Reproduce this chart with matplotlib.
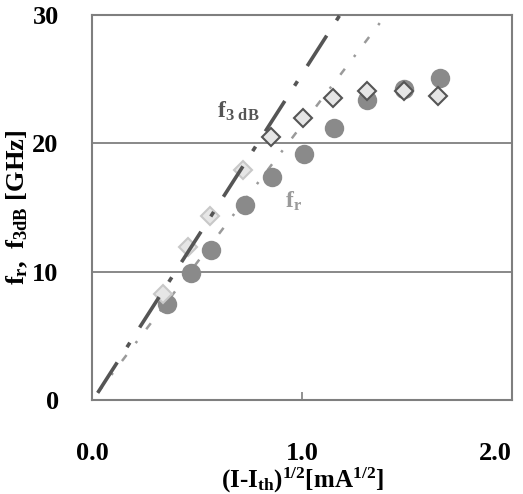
import matplotlib
matplotlib.use("Agg")
import matplotlib.pyplot as plt
import numpy as np

plt.rcParams['font.family'] = ['Liberation Serif', 'DejaVu Serif']
plt.rcParams['font.weight'] = 'bold'
plt.rcParams['mathtext.fontset'] = 'custom'
plt.rcParams['mathtext.rm'] = 'Liberation Serif:bold'
plt.rcParams['mathtext.it'] = 'Liberation Serif:bold'
plt.rcParams['mathtext.bf'] = 'Liberation Serif:bold'

# f_r data (circles)
fr_x = [0.356, 0.47, 0.567, 0.729, 0.856, 1.011, 1.152, 1.311, 1.487, 1.657]
fr_y = [7.5, 9.9, 11.7, 15.2, 17.4, 19.2, 21.2, 23.4, 24.2, 25.1]
# f_3dB data (diamonds)
f3_x = [0.34, 0.459, 0.562, 0.718, 0.851, 1.006, 1.146, 1.308, 1.486, 1.649]
f3_y = [8.3, 11.9, 14.3, 17.9, 20.5, 22.0, 23.5, 24.1, 24.1, 23.7]
# linear fits
f3_fit_x = [0.027, 1.181]
f3_fit_y = [0.57, 30.0]
fr_fit_x = [0.027, 1.40]
fr_fit_y = [0.57, 30.0]

fig = plt.figure(figsize=(5.23, 4.94), dpi=100)
ax = fig.add_axes([0.176, 0.190, 0.803, 0.780])

ax.set_xlim(0, 2.0)
ax.set_ylim(0, 30)

for yv in [10, 20]:
    ax.axhline(yv, color='#7f7f7f', lw=1.3, zorder=1)

ax.plot(fr_fit_x, fr_fit_y, color='#9a9a9a', lw=1.8, dashes=(3, 6, 1, 6), zorder=2)
ax.plot(f3_fit_x, f3_fit_y, color='#555555', lw=2.6, dashes=(10, 5, 1.5, 5), zorder=4)

ax.plot(fr_x, fr_y, 'o', color='#8a8a8a', markersize=14, markeredgewidth=0, zorder=3)
ax.plot(f3_x[:4], f3_y[:4], 'D', markerfacecolor='#e6e6e6', markeredgecolor='#c8c8c8',
        markersize=9, markeredgewidth=1.5, zorder=3)
ax.plot(f3_x[4:], f3_y[4:], 'D', markerfacecolor='#e6e6e6', markeredgecolor='#555555',
        markersize=9, markeredgewidth=1.5, zorder=5)

ax.text(0.595, 22.0, r'$\mathrm{f}_{\mathrm{3\ dB}}$', color='#555555', fontsize=17)
ax.text(0.92, 15.0, r'$\mathrm{f}_{\mathrm{r}}$', color='#9a9a9a', fontsize=17)

for s in ax.spines.values():
    s.set_color('#7f7f7f')
    s.set_linewidth(1.5)

ax.set_xticks([0.0, 1.0, 2.0])
ax.set_xticklabels(['0.0', '1.0', '2.0'])
ax.set_yticks([0, 10, 20, 30])
ax.set_yticklabels(['0', '10', '20', '30'])
ax.tick_params(axis='x', direction='in', length=6, width=1.2, color='#7f7f7f',
               pad=30, labelsize=19)
ax.tick_params(axis='y', direction='in', length=0, pad=24, labelsize=19)
for lab in ax.get_xticklabels() + ax.get_yticklabels():
    lab.set_fontweight('bold')
ax.get_xticklabels()[-1].set_horizontalalignment('right')
ax.get_xticklabels()[-1].set_x(2.03)

ax.set_xlabel(r'$\mathrm{(I\text{-}I_{th})^{1/2}[mA^{1/2}]}$', fontsize=18, labelpad=1)
ax.set_ylabel(r'$\mathrm{f_r,\ f_{3dB}\ [GHz]}$', fontsize=19, labelpad=2)

fig.savefig('out.png', dpi=100)
